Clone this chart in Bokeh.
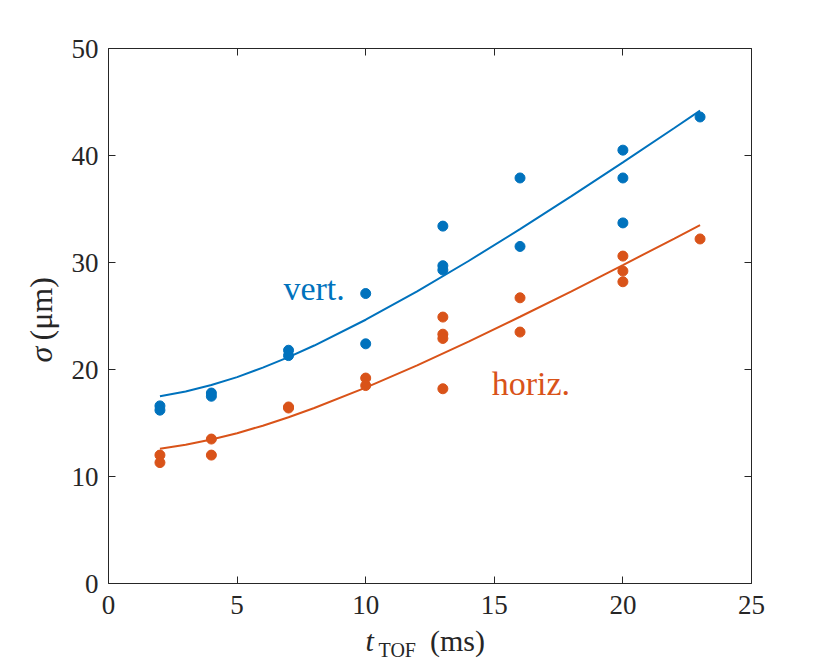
import numpy as np
from bokeh.plotting import figure
from bokeh.layouts import row, column
from bokeh.models import LinearAxis, Label, Range1d, FixedTicker
from bokeh.core.properties import value
from bokeh.embed import file_html
from bokeh.resources import INLINE

# measured points
t_vert = [2, 2, 4, 4, 7, 7, 10, 10, 13, 13, 13, 16, 16, 20, 20, 20, 23]
s_vert = [16.6, 16.2, 17.8, 17.5, 21.8, 21.3, 27.1, 22.4, 33.4, 29.7, 29.3,
          37.9, 31.5, 40.5, 37.9, 33.7, 43.6]
t_horiz = [2, 2, 4, 4, 7, 7, 10, 10, 13, 13, 13, 13, 16, 16, 20, 20, 20, 23]
s_horiz = [12.0, 11.3, 13.5, 12.0, 16.5, 16.4, 19.2, 18.5, 24.9, 23.3, 22.9,
           18.2, 26.7, 23.5, 30.6, 29.2, 28.2, 32.2]

# fitted curves
t_fit = [2, 3, 4, 5, 6, 7, 8, 10, 12, 14, 16, 18, 20, 22, 23]
fit_vert = [17.50, 17.94, 18.55, 19.29, 20.17, 21.15, 22.24, 24.65, 27.31,
            30.14, 33.12, 36.20, 39.35, 42.57, 44.20]
fit_horiz = [12.60, 12.96, 13.45, 14.05, 14.75, 15.54, 16.40, 18.30, 20.39,
             22.61, 24.93, 27.31, 29.76, 32.24, 33.50]

x_ticks = [0, 5, 10, 15, 20, 25]
y_ticks = [0, 10, 20, 30, 40, 50]

BLUE = "#0072BD"
ORANGE = "#D95319"
AX = "#262626"
FONT = "Liberation Serif"

LB, RB, TB, BB = 44, 57, 48, 40
FW, FH = 643, 535
PH = TB + FH + BB          # main figure height
XH = 663 - PH              # x-label strip height
YW = 64                    # y-label strip width

p = figure(title=None, width=LB + FW + RB, height=PH, output_backend="svg",
           toolbar_location=None, x_range=Range1d(0, 25), y_range=Range1d(0, 50),
           min_border_left=LB, min_border_top=TB, min_border_right=RB,
           min_border_bottom=BB)
p.outline_line_color = None
p.grid.visible = False

xa = p.xaxis[0]
ya = p.yaxis[0]
for ax, ticks in [(xa, x_ticks), (ya, y_ticks)]:
    ax.ticker = FixedTicker(ticks=ticks)
    ax.axis_line_color = AX
    ax.major_tick_line_color = AX
    ax.major_tick_in = 7
    ax.major_tick_out = 0
    ax.minor_tick_line_color = None
    ax.major_label_text_font = FONT
    ax.major_label_text_font_size = "27px"
    ax.major_label_text_color = AX
xa.major_label_standoff = 12
ya.major_label_standoff = 10

for loc, ticks in [("above", x_ticks), ("right", y_ticks)]:
    ax = LinearAxis(ticker=FixedTicker(ticks=ticks))
    ax.axis_line_color = AX
    ax.major_tick_line_color = AX
    ax.major_tick_in = 7
    ax.major_tick_out = 0
    ax.minor_tick_line_color = None
    ax.major_label_text_font_size = "1px"
    ax.major_label_text_color = None
    ax.major_label_standoff = 0
    p.add_layout(ax, loc)

p.line(t_fit, fit_vert, line_color=BLUE, line_width=2)
p.line(t_fit, fit_horiz, line_color=ORANGE, line_width=2)
p.scatter(t_vert, s_vert, size=10, fill_color=BLUE, line_color=BLUE)
p.scatter(t_horiz, s_horiz, size=10, fill_color=ORANGE, line_color=ORANGE)

p.add_layout(Label(x=6.8, y=27.6, text="vert.", text_font=FONT, text_font_size="34px",
                   text_color=BLUE, text_baseline="alphabetic", text_align="left"))
p.add_layout(Label(x=14.9, y=18.7, text="horiz.", text_font=FONT, text_font_size="34px",
                   text_color=ORANGE, text_baseline="alphabetic", text_align="left"))

# ---- x label strip: t_TOF (ms)
TOP = PH  # strip top in page pixels
xf = figure(title=None, width=LB + FW + RB, height=XH, output_backend="svg",
            toolbar_location=None, x_range=p.x_range, y_range=Range1d(XH, 0),
            min_border_left=LB, min_border_right=RB, min_border_top=0, min_border_bottom=0,
            x_axis_location=None, y_axis_location=None)
xf.outline_line_color = None
xf.grid.visible = False
xf.text(x=[9.99], y=[639.6 - TOP], text=["t"], text_font=value(FONT), text_font_size="30px",
        text_font_style="italic", text_color=AX, text_baseline="alphabetic")
xf.text(x=[10.5], y=[649.6 - TOP], text=["TOF"], text_font=value(FONT), text_font_size="20px",
        text_color=AX, text_baseline="alphabetic")
xf.text(x=[12.5], y=[639.6 - TOP], text=["(ms)"], text_font=value(FONT), text_font_size="30px",
        text_color=AX, text_baseline="alphabetic")

# ---- y label strip: sigma (mu m)
yf = figure(title=None, width=YW, height=PH, output_backend="svg", toolbar_location=None,
            x_range=Range1d(0, YW), y_range=Range1d(PH, 0),
            min_border=0, x_axis_location=None, y_axis_location=None)
yf.outline_line_color = None
yf.grid.visible = False
yf.text(x=[40], y=[362], text=["σ"], text_font=value(FONT), text_font_size="32px",
        text_font_style="italic", text_color=AX, text_baseline="middle",
        text_align="left", angle=np.pi / 2)
yf.text(x=[40], y=[340], text=["(μm)"], text_font=value(FONT), text_font_size="32px",
        text_color=AX, text_baseline="middle", text_align="left", angle=np.pi / 2)

layout = row(yf, column(p, xf))
open("out.html", "w").write(file_html(layout, INLINE))
